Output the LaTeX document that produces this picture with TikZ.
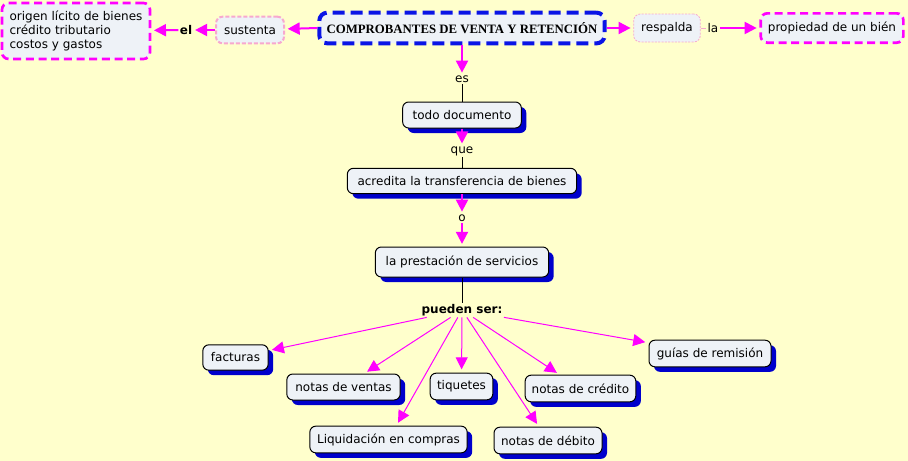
\documentclass[tikz,border=0pt]{standalone}
\usepackage{fontspec}
\setmainfont{DejaVu Sans}
\newfontfamily\rootfont{Liberation Serif}
\usetikzlibrary{arrows.meta,shadows}
\definecolor{bg}{HTML}{FFFFCC}
\definecolor{boxfill}{HTML}{EEF2F7}
\definecolor{mag}{HTML}{FF00FF}
\definecolor{shad}{HTML}{0000CC}
\definecolor{lpink}{HTML}{F7A8CF}
\definecolor{rootblue}{HTML}{0A14E6}
\begin{document}
\begin{tikzpicture}[x=0.75pt,y=-0.75pt,
  font=\fontsize{9}{10.5}\selectfont,
  concept/.style={draw=black, line width=0.75pt, rounded corners=4.5pt, fill=boxfill,
    inner sep=0pt, align=center,
    general shadow={fill=shad, shadow xshift=3.75pt, shadow yshift=-3.75pt}},
  dashbox/.style={fill=boxfill, rounded corners=5pt, inner sep=0pt, align=center},
  linklabel/.style={inner sep=1pt},
  arr/.style={draw=mag, line width=1.5pt, -{Triangle[length=9pt,width=9pt]}, shorten >=2pt},
  thinarr/.style={draw=mag, line width=0.75pt, -{Triangle[length=9pt,width=9pt]}, shorten >=2.5pt},
  plain/.style={draw=black, line width=0.75pt},
]
\fill[bg] (0,0) rectangle (908,461);
\useasboundingbox (0,0) rectangle (908,461);

% top row
\node[dashbox, draw=rootblue, line width=3pt, dash pattern=on 9pt off 4.5pt,
  rounded corners=6pt, minimum width=214pt, minimum height=23pt,
  font=\rootfont\bfseries\fontsize{9.6}{11}\selectfont] (root) at (462,28) {COMPROBANTES DE VENTA Y RETENCIÓN};
\node[dashbox, draw=lpink, line width=1.5pt, dash pattern=on 3pt off 1.5pt,
  minimum width=51pt, minimum height=20pt] (sustenta) at (250,30) {sustenta};
\node[linklabel, font=\fontsize{9}{10.5}\selectfont\bfseries] (el) at (186,30) {el};
\node[dashbox, draw=mag, line width=2pt, dash pattern=on 6pt off 3.5pt,
  align=left, minimum width=111pt, minimum height=42pt] (origen) at (76,31)
  {origen lícito de bienes\\crédito tributario\\costos y gastos};
\node[dashbox, draw=lpink, line width=0.6pt, dash pattern=on 1.5pt off 1pt,
  minimum width=50pt, minimum height=21pt] (respalda) at (667,28) {respalda};
\node[linklabel] (la) at (713,28) {la};
\node[dashbox, draw=mag, line width=2pt, dash pattern=on 6pt off 3.5pt,
  minimum width=107pt, minimum height=22pt] (propiedad) at (832,28) {propiedad de un bién};

% vertical chain
\node[linklabel] (es) at (462,79) {es};
\node[concept, minimum width=89pt, minimum height=19.5pt] (todo) at (462,115) {todo documento};
\node[linklabel] (que) at (462,151) {que};
\node[concept, minimum width=172pt, minimum height=19pt] (acredita) at (462,181) {acredita la transferencia de bienes};
\node[linklabel] (o) at (462,218) {o};
\node[concept, minimum width=130pt, minimum height=22.5pt] (prestacion) at (462,262) {la prestación de servicios};
\node[linklabel, font=\fontsize{9}{10.5}\selectfont\bfseries] (pueden) at (462,310) {pueden ser:};

% leaves
\node[concept, minimum width=49pt, minimum height=19pt] (facturas) at (235.5,357.5) {facturas};
\node[concept, minimum width=85pt, minimum height=19.5pt] (ventas) at (343.5,387) {notas de ventas};
\node[concept, minimum width=118pt, minimum height=20pt] (liquidacion) at (388.5,439.5) {Liquidación en compras};
\node[concept, minimum width=47pt, minimum height=20pt] (tiquetes) at (461.5,386.5) {tiquetes};
\node[concept, minimum width=83pt, minimum height=20pt] (credito) at (580.5,388.5) {notas de crédito};
\node[concept, minimum width=81pt, minimum height=20pt] (debito) at (548,440.5) {notas de débito};
\node[concept, minimum width=91.5pt, minimum height=20pt] (guias) at (710,353.5) {guías de remisión};

% connectors top row
\draw[arr] (root.west) -- (sustenta);
\draw[arr, shorten >=1pt] (sustenta) -- (el);
\draw[arr] (el) -- (origen);
\draw[arr] (root.east) -- (respalda);
\draw[draw=lpink, line width=0.6pt] (respalda) -- (la);
\draw[arr] (la) -- (propiedad);

% vertical chain connectors
\draw[arr, shorten >=1pt] (root) -- (es);
\draw[plain] (es) -- (todo);
\draw[arr, shorten >=1pt] (todo) -- (que);
\draw[plain] (que) -- (acredita);
\draw[arr, shorten >=1pt] (acredita) -- (o);
\draw[arr] (o) -- (prestacion);
\draw[plain] (prestacion) -- (pueden);

% leaf connectors
\draw[thinarr] (pueden) -- (facturas);
\draw[thinarr] (pueden) -- (ventas);
\draw[thinarr] (pueden) -- (liquidacion);
\draw[thinarr] (pueden) -- (tiquetes);
\draw[thinarr] (pueden) -- (credito);
\draw[thinarr] (pueden) -- (debito);
\draw[thinarr] (pueden) -- (guias);
\end{tikzpicture}
\end{document}
